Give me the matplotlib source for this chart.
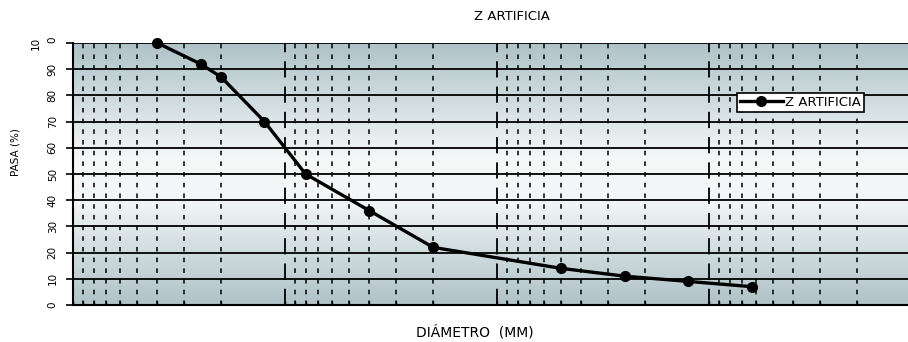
import numpy as np
import matplotlib
import matplotlib.pyplot as plt
from matplotlib.colors import LinearSegmentedColormap
from matplotlib.ticker import LogLocator, NullFormatter, FixedLocator

matplotlib.use("Agg")

# sieve opening (mm) and percent passing
diametro = [40, 25, 20, 12.5, 8, 4, 2, 0.5, 0.25, 0.125, 0.063]
pasa = [100, 92, 87, 70, 50, 36, 22, 14, 11, 9, 7]
y_ticks = [0, 10, 20, 30, 40, 50, 60, 70, 80, 90, 100]
y_labels = ["0", "10", "20", "30", "40", "50", "60", "70", "80", "90", "10\n0"]
serie = "Z ARTIFICIA"

fig = plt.figure(figsize=(9.08, 3.42), dpi=100)
ax = fig.add_axes([73 / 908, 37 / 342, 848 / 908, 262 / 342])

# vertical gradient background (grey-blue -> white -> grey-blue)
edge = "#b0c3c8"
cmap = LinearSegmentedColormap.from_list(
    "bg", [(0, edge), (0.22, "#d0dcdf"), (0.45, "#f6f8f8"), (0.6, "#f3f6f6"),
           (0.8, "#cfdbde"), (1, edge)])
grad = np.linspace(0, 1, 256).reshape(-1, 1)
ax.imshow(grad, cmap=cmap, extent=[0, 1, 0, 1], transform=ax.transAxes,
          aspect="auto", zorder=0)

ax.set_xscale("log")
ax.set_xlim(100, 0.01)
ax.set_ylim(0, 100)

ax.xaxis.set_major_locator(LogLocator(base=10, numticks=10))
ax.xaxis.set_minor_locator(LogLocator(base=10, subs=np.arange(2, 10), numticks=20))
ax.xaxis.set_major_formatter(NullFormatter())
ax.xaxis.set_minor_formatter(NullFormatter())
ax.yaxis.set_major_locator(FixedLocator(y_ticks))
ax.set_yticklabels(y_labels, rotation=90, va="center", ha="right",
                   fontsize=7.5, linespacing=1.9)
ax.tick_params(axis="y", which="major", length=5, width=1.2, pad=6)
ax.tick_params(axis="x", which="both", direction="in", length=3, width=1)

ax.grid(True, axis="y", which="major", color="black", linewidth=1.3,
        linestyle="-", zorder=1)
ax.grid(True, axis="x", which="major", color="black", linewidth=1.3,
        linestyle=(0, (9, 5)), zorder=1)
ax.grid(True, axis="x", which="minor", color="black", linewidth=1.1,
        linestyle=(0, (3, 4)), zorder=1)
ax.set_axisbelow(True)

for side in ["top", "right"]:
    ax.spines[side].set_visible(False)
ax.spines["left"].set_linewidth(1.5)
ax.spines["bottom"].set_linewidth(1.5)

ax.plot(diametro, pasa, color="black", linewidth=2.4, marker="o",
        markersize=7, label=serie, zorder=5, clip_on=False)

leg = ax.legend(loc="upper left", bbox_to_anchor=(0.783, 0.81), fontsize=9.5,
                frameon=True, fancybox=False, borderpad=0.25, handlelength=3.2,
                handletextpad=0.2, borderaxespad=0)
leg.get_frame().set_edgecolor("black")
leg.get_frame().set_linewidth(1.2)
leg.get_frame().set_facecolor("white")
leg.get_frame().set_alpha(1)

fig.text(512 / 908, 1 - 16 / 342, "Z ARTIFICIA", ha="center", va="center",
         fontsize=9.5)
fig.text(475 / 908, 1 - 332 / 342, "DIÁMETRO  (MM)", ha="center",
         va="center", fontsize=10)
fig.text(15 / 908, 1 - 152 / 342, "PASA (%)", ha="center", va="center",
         rotation=90, fontsize=7.5)

fig.savefig("out.png", dpi=100, facecolor="white")
plt.close(fig)
